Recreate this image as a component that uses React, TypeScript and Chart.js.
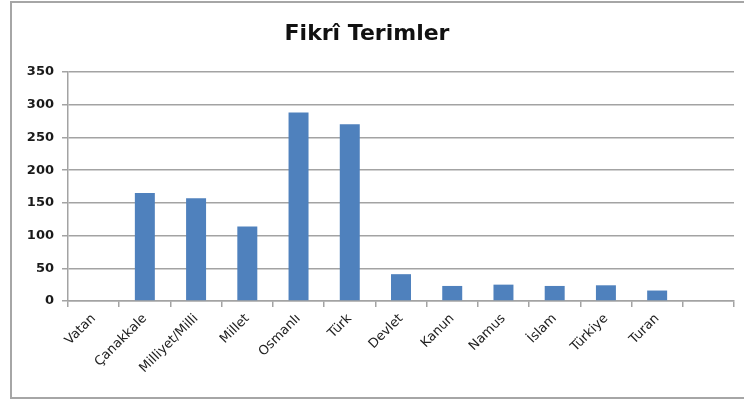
import React, { useEffect, useRef } from "react";
import { Chart, registerables } from "chart.js";

Chart.register(...registerables);

const categories = [
  "Vatan",
  "Çanakkale",
  "Milliyet/Milli",
  "Millet",
  "Osmanlı",
  "Türk",
  "Devlet",
  "Kanun",
  "Namus",
  "İslam",
  "Türkiye",
  "Turan",
  "",
];

const values = [0, 165, 157, 114, 288, 270, 41, 23, 25, 23, 24, 16, null];

const yMin = 0;
const yMax = 350;
const yStep = 50;

const titleText = "Fikrî Terimler";

export default function App() {
  const canvasRef = useRef<HTMLCanvasElement | null>(null);

  useEffect(() => {
    if (!canvasRef.current) return;
    const gridColor = "#a3a3a3";
    const chart = new Chart(canvasRef.current, {
      type: "bar",
      data: {
        labels: categories,
        datasets: [
          {
            data: values as any,
            backgroundColor: "#4f81bd",
            borderWidth: 0,
            categoryPercentage: 1,
            barPercentage: 0.39,
          },
        ],
      },
      options: {
        responsive: false,
        animation: false,
        layout: { padding: { left: 0, right: 10, top: 0, bottom: 0 } },
        plugins: {
          legend: { display: false },
          tooltip: { enabled: false },
          title: {
            display: true,
            text: titleText,
            color: "#111111",
            font: { family: "DejaVu Sans", size: 22, weight: "bold", lineHeight: 1.2 },
            padding: { top: 21, bottom: 24.6 },
          },
        },
        scales: {
          x: {
            grid: {
              display: true,
              drawOnChartArea: false,
              drawTicks: true,
              tickLength: 6,
              color: gridColor,
              lineWidth: 1.5,
              offset: true,
            },
            border: { display: true, color: gridColor, width: 1.5 },
            ticks: {
              autoSkip: false,
              minRotation: 45,
              maxRotation: 45,
              padding: 4,
              color: "#222222",
              font: { family: "DejaVu Sans", size: 13 },
            },
            afterFit: (scale: any) => {
              scale.height = 100;
            },
          },
          y: {
            min: yMin,
            max: yMax,
            grid: {
              color: gridColor,
              lineWidth: 1.5,
              drawTicks: true,
              tickLength: 6,
            },
            border: { display: true, color: gridColor, width: 1.5 },
            ticks: {
              stepSize: yStep,
              padding: 8,
              color: "#1a1a1a",
              font: { family: "DejaVu Sans", size: 13, weight: "bold" },
            },
            afterFit: (scale: any) => {
              scale.width = 68;
            },
          },
        },
      },
    });
    return () => chart.destroy();
  }, []);

  return (
    <div
      style={{
        position: "absolute",
        left: 0,
        top: 0,
        width: 744,
        height: 401,
        overflow: "hidden",
        background: "#ffffff",
      }}
    >
      <div
        style={{
          position: "absolute",
          left: 10,
          top: 1,
          width: 780,
          height: 398,
          border: "2px solid #a6a6a6",
          boxSizing: "border-box",
        }}
      />
      <canvas
        ref={canvasRef}
        width={744}
        height={401}
        style={{ position: "absolute", left: 0, top: 0, display: "block" }}
      />
    </div>
  );
}
